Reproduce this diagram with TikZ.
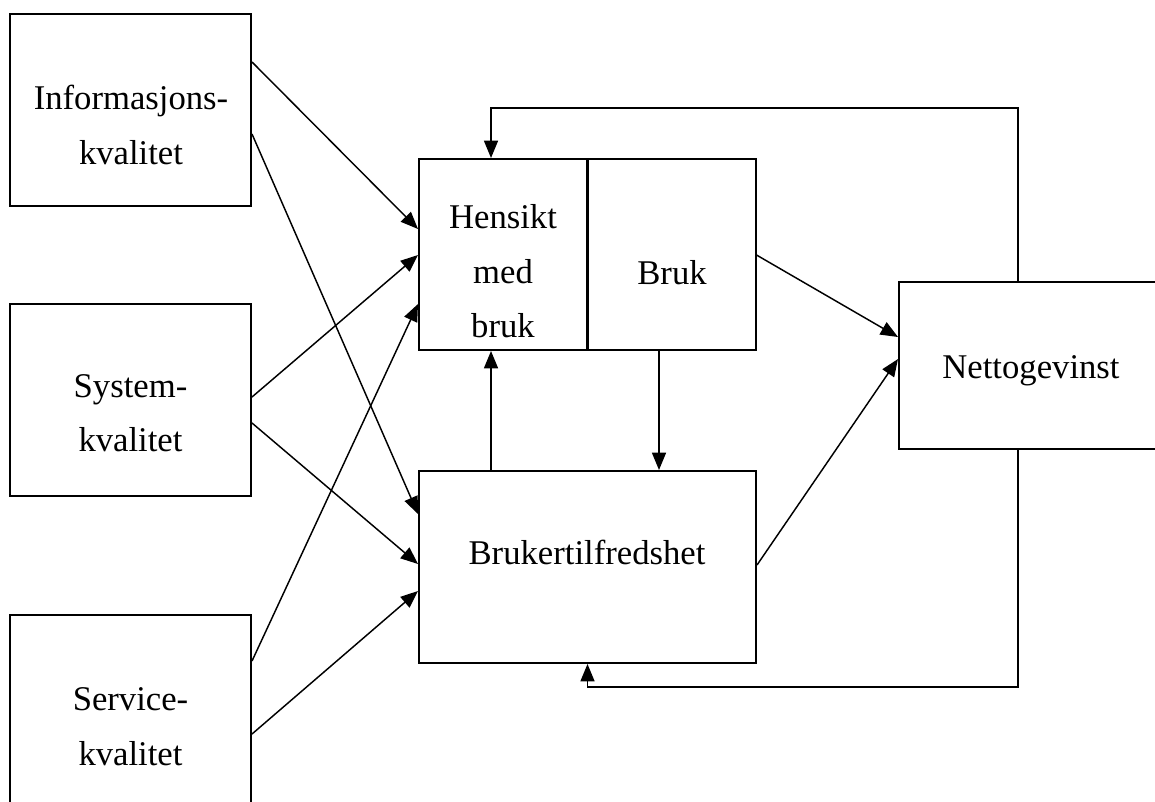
\documentclass[tikz,border=0pt]{standalone}
\usepackage{fontspec}
\setmainfont{Liberation Serif}
\usetikzlibrary{arrows.meta, calc}

\begin{document}
\begin{tikzpicture}[
    x=0.75pt, y=-0.75pt,
    box/.style={rectangle, draw, line width=1.5pt, inner sep=0pt},
    lbl/.style={align=center, inner sep=0pt, text depth=0pt, font=\fontsize{26}{41}\selectfont},
    arr/.style={-{Triangle[length=13pt, width=10.5pt]}, line width=1.1pt}
]
  \clip (0,0) rectangle (1155,801);

  % Quality boxes
  \node[box, minimum width=180.75pt, minimum height=144pt] (info) at (130.5,110) {};
  \node[box, minimum width=180.75pt, minimum height=144pt] (system) at (130.5,400) {};
  \node[box, minimum width=180.75pt, minimum height=144pt] (service) at (130.5,711) {};
  \node[lbl] (infotxt) at (131,124.5) {Informasjons-\\kvalitet};
  \node[lbl] (systemtxt) at (130.5,413) {System-\\kvalitet};
  \node[lbl] (servicetxt) at (130.5,726.5) {Service-\\kvalitet};

  % Use and satisfaction
  \node[box, minimum width=126pt, minimum height=143.25pt] (hensikt) at (503,254.5) {};
  \node[box, minimum width=126pt, minimum height=143.25pt] (bruk) at (671.5,254.5) {};
  \node[box, minimum width=252.75pt, minimum height=144pt] (bt) at (587.5,567) {};
  \node[lbl] (hensikttxt) at (503,271) {Hensikt\\med\\bruk};
  \node[lbl] (bruktxt) at (672,272.5) {Bruk};
  \node[lbl] (bttxt) at (587,552.5) {Brukertilfredshet};

  % Net benefits
  \node[box, minimum width=198pt, minimum height=125.25pt] (netto) at (1031,365.5) {};
  \node[lbl] (nettotxt) at (1031,367.5) {Nettogevinst};

  % Arrows from the quality boxes
  \draw[arr] ($(info.north east)+(0,49)$) -- ($(hensikt.north west)+(0,71)$);
  \draw[arr] ($(info.north east)+(0,121)$) -- ($(bt.north west)+(0,44)$);
  \draw[arr] ($(system.north east)+(0,94)$) -- ($(hensikt.north west)+(0,97)$);
  \draw[arr] ($(system.north east)+(0,120)$) -- ($(bt.north west)+(0,94)$);
  \draw[arr] ($(service.north east)+(0,47)$) -- ($(hensikt.north west)+(0,146)$);
  \draw[arr] ($(service.north east)+(0,120)$) -- ($(bt.north west)+(0,121)$);

  % Between use and satisfaction
  \coordinate (upx) at (491,0);
  \coordinate (downx) at (659,0);
  \draw[arr] (upx |- bt.north) -- (upx |- hensikt.south);
  \draw[arr] (downx |- bruk.south) -- (downx |- bt.north);

  % To net benefits
  \draw[arr] ($(bruk.north east)+(0,97)$) -- ($(netto.north west)+(0,56)$);
  \draw[arr] ($(bt.north east)+(0,95)$) -- ($(netto.north west)+(0,78)$);

  % Feedback
  \coordinate (fbtop) at (491,108);
  \coordinate (fbbot) at (587.5,687);
  \draw[arr] ($(netto.north west)+(120,0)$) |- (fbtop) -- (fbtop |- hensikt.north);
  \draw[arr] ($(netto.south west)+(120,0)$) |- (fbbot) -- (bt.south);
\end{tikzpicture}
\end{document}
